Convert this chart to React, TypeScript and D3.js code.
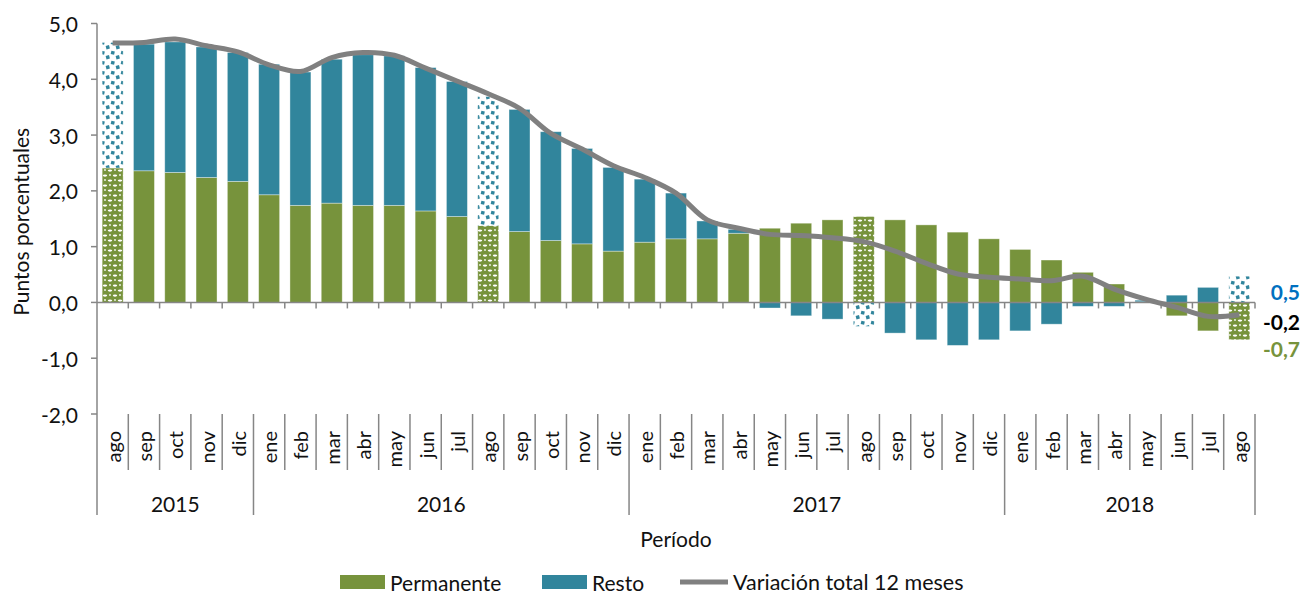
import React from "react";
import * as d3 from "d3";

const months = ["ago","sep","oct","nov","dic","ene","feb","mar","abr","may","jun","jul","ago","sep","oct","nov","dic","ene","feb","mar","abr","may","jun","jul","ago","sep","oct","nov","dic","ene","feb","mar","abr","may","jun","jul","ago"];
const years = [
  { label: "2015", count: 5 },
  { label: "2016", count: 12 },
  { label: "2017", count: 12 },
  { label: "2018", count: 8 },
];
const permanente = [2.41, 2.36, 2.33, 2.24, 2.17, 1.93, 1.74, 1.78, 1.74, 1.74, 1.64, 1.54, 1.38, 1.27, 1.11, 1.05, 0.92, 1.08, 1.14, 1.14, 1.24, 1.33, 1.42, 1.48, 1.54, 1.48, 1.39, 1.26, 1.14, 0.95, 0.76, 0.54, 0.33, 0.01, -0.24, -0.51, -0.67];
const resto = [2.25, 2.27, 2.34, 2.34, 2.31, 2.34, 2.39, 2.58, 2.70, 2.68, 2.57, 2.42, 2.31, 2.19, 1.95, 1.71, 1.50, 1.13, 0.82, 0.32, 0.07, -0.10, -0.24, -0.30, -0.43, -0.55, -0.67, -0.77, -0.67, -0.51, -0.39, -0.07, -0.07, 0.03, 0.13, 0.27, 0.47];
const total = [4.65, 4.66, 4.72, 4.60, 4.49, 4.26, 4.14, 4.39, 4.48, 4.43, 4.20, 3.97, 3.74, 3.48, 3.03, 2.75, 2.45, 2.24, 1.96, 1.48, 1.33, 1.22, 1.20, 1.16, 1.09, 0.92, 0.70, 0.51, 0.45, 0.42, 0.39, 0.47, 0.24, 0.06, -0.09, -0.25, -0.22];
const patternedIdx = [0, 12, 24, 36];
const yTicks = [-2, -1, 0, 1, 2, 3, 4, 5];
const endLabels = [
  { text: "0,5", pos: 0.19, color: "#0070C0" },
  { text: "-0,2", pos: -0.34, color: "#000000" },
  { text: "-0,7", pos: -0.82, color: "#77933C" },
];

const GREEN = "#77933C";
const TEAL = "#31859C";
const AXIS = "#868686";
const FONT = "Lato, 'Open Sans', sans-serif";

const W = 1304, H = 597;
const left = 97, right = 1255, top = 23.5, bottom = 414;

export default function App() {
  const n = months.length;
  const x = d3.scaleBand<number>().domain(d3.range(n)).range([left, right]).paddingInner(0.33).paddingOuter(0.165);
  const step = x.step();
  const y = d3.scaleLinear().domain([-2, 5]).range([bottom, top]);
  const rows = d3.range(n).map((i) => ({ i, permanente: permanente[i], resto: resto[i] }));
  const stack = d3.stack<any>().keys(["permanente", "resto"]).offset(d3.stackOffsetDiverging);
  const series = stack(rows);
  const colors: Record<string, string> = { permanente: GREEN, resto: TEAL };
  const pats: Record<string, string> = { permanente: "url(#patGreen)", resto: "url(#patTeal)" };
  const cx = (i: number) => (x(i) as number) + x.bandwidth() / 2;
  const line = d3.line<number>().x((_, i) => cx(i)).y((d) => y(d)).curve(d3.curveCatmullRom.alpha(0.5));
  const fmt = (v: number) => v.toFixed(1).replace(".", ",");
  const y0 = y(0);

  let acc = 0;
  const yearSpans = years.map((yr) => {
    const s = acc;
    acc += yr.count;
    return { ...yr, start: s, end: acc };
  });
  const boundaryX = (k: number) => left + k * step;
  const yearBounds = new Set(yearSpans.map((s) => s.end));
  const legY = 582;

  return (
    <div style={{ position: "absolute", left: 0, top: 0 }}>
      <svg width={W} height={H} style={{ display: "block", background: "#fff" }} fontFamily={FONT}>
        <defs>
          <pattern id="patGreen" width="10" height="10" patternUnits="userSpaceOnUse">
            <rect width="10" height="10" fill="#ffffff" />
            <circle cx="5" cy="5" r="4.3" fill={GREEN} />
            <circle cx="0" cy="0" r="4.3" fill={GREEN} />
            <circle cx="10" cy="0" r="4.3" fill={GREEN} />
            <circle cx="0" cy="10" r="4.3" fill={GREEN} />
            <circle cx="10" cy="10" r="4.3" fill={GREEN} />
            <ellipse cx="5" cy="5.6" rx="2.2" ry="1.1" fill="#ffffff" />
            <ellipse cx="0" cy="0.6" rx="2.2" ry="1.1" fill="#ffffff" />
            <ellipse cx="10" cy="0.6" rx="2.2" ry="1.1" fill="#ffffff" />
            <ellipse cx="0" cy="10.6" rx="2.2" ry="1.1" fill="#ffffff" />
            <ellipse cx="10" cy="10.6" rx="2.2" ry="1.1" fill="#ffffff" />
          </pattern>
          <pattern id="patTeal" width="10" height="10" patternUnits="userSpaceOnUse">
            <rect width="10" height="10" fill="#ffffff" />
            <rect x="1" y="1" width="3.5" height="3.5" fill={TEAL} transform="rotate(12 2.75 2.75)" />
            <rect x="6" y="5.5" width="3.5" height="3.5" fill={TEAL} transform="rotate(-15 7.75 7.25)" />
          </pattern>
        </defs>

        {/* bars */}
        {series.map((s) => (
          <g key={s.key}>
            {s.map((d, i) => {
              const yTop = y(Math.max(d[0], d[1]));
              const yBot = y(Math.min(d[0], d[1]));
              const h = yBot - yTop;
              if (h <= 0) return null;
              const isPat = patternedIdx.includes(i);
              return (
                <rect
                  key={i}
                  x={x(i)}
                  y={yTop}
                  width={x.bandwidth()}
                  height={h}
                  fill={isPat ? pats[s.key] : colors[s.key]}
                  stroke="#ffffff"
                  strokeOpacity={0.45}
                  strokeWidth={0.8}
                />
              );
            })}
          </g>
        ))}

        {/* y axis */}
        <line x1={left} x2={left} y1={top} y2={515} stroke={AXIS} strokeWidth={1.5} />
        {yTicks.map((t) => (
          <g key={t}>
            <line x1={left - 6} x2={left} y1={y(t)} y2={y(t)} stroke={AXIS} strokeWidth={1.5} />
            <text x={78} y={y(t)} textAnchor="end" dominantBaseline="central" fontSize={21} fill="#111">
              {fmt(t)}
            </text>
          </g>
        ))}
        <text transform={`translate(20,${(top + bottom) / 2 + 3}) rotate(-90)`} textAnchor="middle" dominantBaseline="central" fontSize={21} fill="#111">
          Puntos porcentuales
        </text>

        {/* zero axis with ticks */}
        <line x1={left} x2={right} y1={y0} y2={y0} stroke={AXIS} strokeWidth={1.5} />
        {d3.range(1, n + 1).map((k) => (
          <line key={k} x1={boundaryX(k)} x2={boundaryX(k)} y1={y0} y2={y0 + 6} stroke={AXIS} strokeWidth={1.5} />
        ))}

        {/* total line */}
        <path d={line(total) || ""} fill="none" stroke="#808080" strokeWidth={5} strokeLinejoin="round" />

        {/* category label area */}
        {d3.range(1, n + 1).map((k) => (
          <line key={"sep" + k} x1={boundaryX(k)} x2={boundaryX(k)} y1={414} y2={yearBounds.has(k) ? 515 : 470} stroke={AXIS} strokeWidth={1.5} />
        ))}
        {months.map((m, i) => (
          <text key={"m" + i} transform={`translate(${cx(i)},431) rotate(-90)`} textAnchor="end" dominantBaseline="central" fontSize={20} fill="#111">
            {m}
          </text>
        ))}
        {yearSpans.map((s) => (
          <text key={s.label} x={(boundaryX(s.start) + boundaryX(s.end)) / 2} y={503} textAnchor="middle" dominantBaseline="central" fontSize={21} fill="#111">
            {s.label}
          </text>
        ))}
        <text x={(left + right) / 2} y={538} textAnchor="middle" dominantBaseline="central" fontSize={21} fill="#111">
          Período
        </text>

        {/* end labels */}
        {endLabels.map((l) => (
          <text key={l.text} x={1300} y={y(l.pos)} textAnchor="end" dominantBaseline="central" fontSize={21} fontWeight="bold" fill={l.color}>
            {l.text}
          </text>
        ))}

        {/* legend */}
        <rect x={340} y={legY - 7} width={45} height={14} fill={GREEN} />
        <text x={390} y={legY} dominantBaseline="central" fontSize={21} fill="#111">Permanente</text>
        <rect x={542} y={legY - 7} width={45} height={14} fill={TEAL} />
        <text x={592} y={legY} dominantBaseline="central" fontSize={21} fill="#111">Resto</text>
        <line x1={680} x2={728} y1={legY} y2={legY} stroke="#808080" strokeWidth={5} />
        <text x={733} y={legY} dominantBaseline="central" fontSize={21.5} fill="#111">Variación total 12 meses</text>
      </svg>
    </div>
  );
}
